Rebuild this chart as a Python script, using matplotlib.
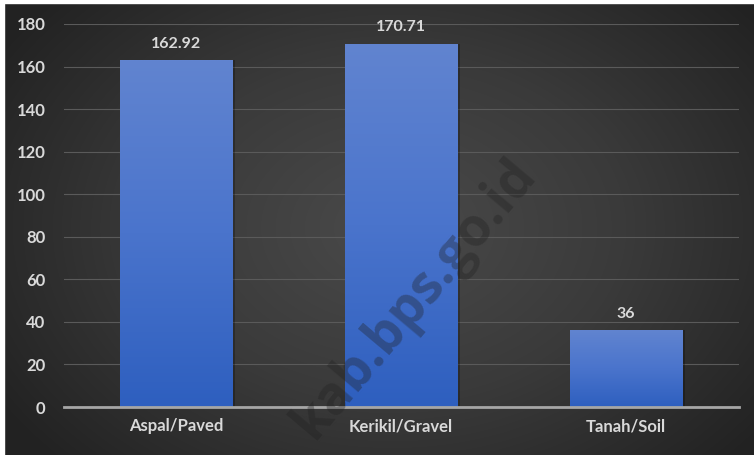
import numpy as np
import matplotlib
matplotlib.use("Agg")
import matplotlib.pyplot as plt
from matplotlib.colors import LinearSegmentedColormap

categories = ["Aspal/Paved", "Kerikil/Gravel", "Tanah/Soil"]
values = [162.92, 170.71, 36]
value_labels = ["162.92", "170.71", "36"]
yticks = [0, 20, 40, 60, 80, 100, 120, 140, 160, 180]

plt.rcParams['font.family'] = ['Lato', 'DejaVu Sans']

W, H = 754, 455
fig = plt.figure(figsize=(W / 100, H / 100), dpi=100)

# background radial gradient
bg = fig.add_axes([0, 0, 1, 1], zorder=0)
yy, xx = np.mgrid[0:H, 0:W]
cx, cy = W * 0.52, H * 0.5
r = np.sqrt(((xx - cx) / (W * 0.62)) ** 2 + ((yy - cy) / (H * 0.75)) ** 2)
r = np.clip(r, 0, 1)
bgcmap = LinearSegmentedColormap.from_list("bg", ["#4a4a4a", "#3a3a3a", "#222222"])
bg.imshow(r, cmap=bgcmap, vmin=0, vmax=1, aspect="auto", extent=[0, W, H, 0])
# white margins at top and left
bg.axvspan(0, 4, color="white")
bg.axhspan(0, 3, color="white")
bg.set_xlim(0, W)
bg.set_ylim(H, 0)
bg.axis("off")

ax = fig.add_axes([63.5 / W, 48 / H, (738.5 - 63.5) / W, (407 - 24) / H], zorder=2)
ax.patch.set_alpha(0)
x = np.arange(len(categories))
bars = ax.bar(x, values, width=0.5, color="#4472c4", zorder=3)

ax.set_xlim(-0.5, 2.5)
ax.set_ylim(0, 180)
ax.set_yticks(yticks)
ax.set_xticks(x)
ax.set_xticklabels(categories)
ax.tick_params(axis="both", length=0, colors="#d9d9d9", labelsize=12)
ax.tick_params(axis="y", pad=13)
ax.tick_params(axis="x", pad=8)
for lab in ax.get_xticklabels() + ax.get_yticklabels():
    lab.set_fontweight("bold")
ax.grid(axis="y", color="#5a5a5a", linewidth=0.8, zorder=1)
for s in ["top", "right", "left"]:
    ax.spines[s].set_visible(False)
ax.spines["bottom"].set_color("#a6a6a6")
ax.spines["bottom"].set_linewidth(2)
ax.spines["bottom"].set_zorder(5)

# gradient fill on bars
barcmap = LinearSegmentedColormap.from_list("bar", ["#2e5fbf", "#4a74cc", "#6184d0"])
grad = np.linspace(0, 1, 256).reshape(-1, 1)
for b in bars:
    bx, bw, bh = b.get_x(), b.get_width(), b.get_height()
    # shadow
    ax.bar(bx + bw / 2 + 0.012, bh, width=bw, color="black", alpha=0.25, zorder=2)
    im = ax.imshow(grad, cmap=barcmap, aspect="auto", origin="lower",
                   extent=[bx, bx + bw, 0, bh], zorder=4)
    im.set_clip_path(b)
ax.set_xlim(-0.5, 2.5)
ax.set_ylim(0, 180)

for xi, v, t in zip(x, values, value_labels):
    ax.annotate(t, (xi, v), xytext=(0, 7), textcoords="offset points",
                ha="center", va="bottom", color="#d9d9d9", fontsize=11.5,
                fontweight="bold", zorder=6)

# watermark
fig.text(415 / W, 1 - 298 / H, "kab.bps.go.id", rotation=50, ha="center", va="center",
         fontsize=38, fontweight="bold", color="#202020", alpha=0.35, zorder=10,
         family=["Open Sans", "DejaVu Sans"])

fig.savefig("out.png", dpi=100)
